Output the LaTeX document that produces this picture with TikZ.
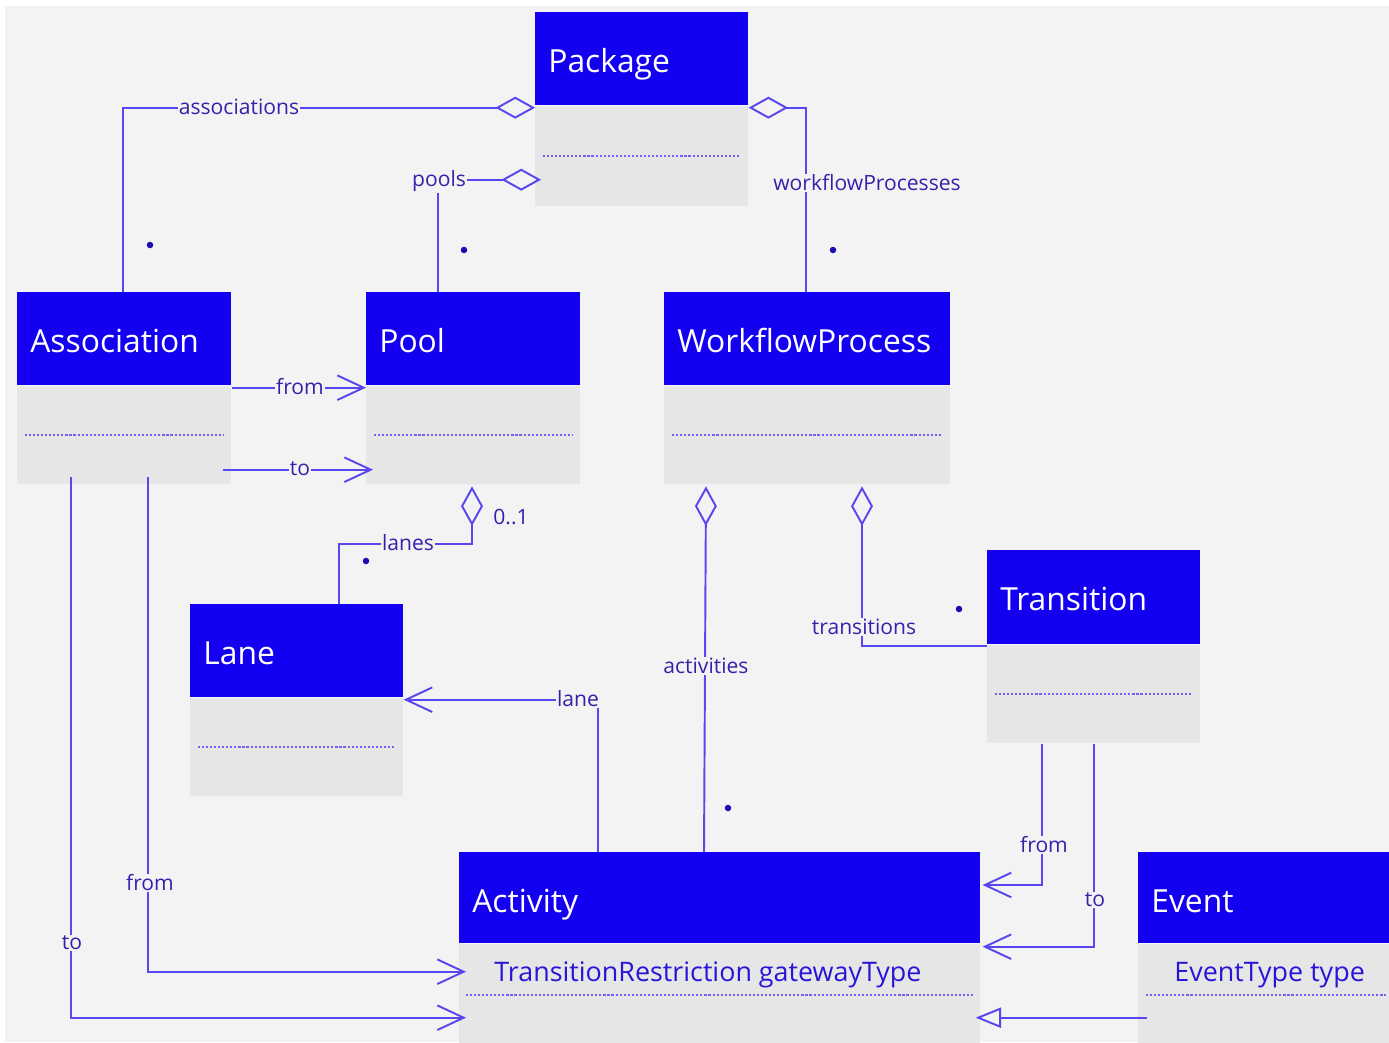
\documentclass[tikz,border=0pt]{standalone}
\usepackage{fontspec}
\setmainfont{Open Sans}
\usetikzlibrary{arrows.meta,calc}
\definecolor{canvas}{RGB}{243,243,243}
\definecolor{hdrblue}{RGB}{20,0,240}
\definecolor{compgray}{RGB}{230,230,230}
\definecolor{linkblue}{RGB}{88,70,238}
\definecolor{lblcol}{RGB}{52,34,170}
\definecolor{attrcol}{RGB}{40,22,216}
\definecolor{dotcol}{RGB}{26,10,180}
\definecolor{sepcol}{RGB}{112,98,242}
\begin{document}
\begin{tikzpicture}[x=0.02cm,y=-0.02cm,
  hdr/.style={fill=hdrblue,draw=none,inner sep=0pt,anchor=north west,minimum height=1.86cm},
  cmp/.style={fill=compgray,draw=none,inner sep=0pt,anchor=north west,minimum height=1.96cm},
  ttl/.style={anchor=base west,inner sep=0pt,text=white,font=\fontsize{18.1}{21}\selectfont},
  attr/.style={anchor=base west,inner sep=0pt,text=attrcol,font=\fontsize{15.3}{18}\selectfont},
  sep/.style={draw=sepcol,line width=1.3pt,dash pattern=on 1.2pt off 1.1pt},
  conn/.style={draw=linkblue,line width=1.1pt},
  aggr/.style={{Diamond[open,length=22.5pt,width=12.5pt]}-},
  navig/.style={-{Straight Barb[length=15pt,width=14pt]}},
  genl/.style={-{Triangle[open,length=14.5pt,width=11.5pt]}},
  lbl/.style={text=lblcol,fill=canvas,inner sep=0.6pt,font=\fontsize{12}{14}\selectfont},
  mdot/.style={circle,fill=dotcol,inner sep=0pt,minimum size=0.13cm}]
\useasboundingbox (0,0) rectangle (1389,1042);
\fill[white] (0,0) rectangle (1389,1042);
\fill[canvas] (5,6) rectangle (1389,1042);

% ---- classes ----
\node[hdr,minimum width=4.26cm] (pkg) at (535,12) {};
\node[cmp,minimum width=4.26cm,minimum height=2cm] (pkgc) at (pkg.south west) {};
\node[ttl] (pkgT) at ($(pkg.north west)+(13,60)$) {Package};
\draw[sep] ($(pkgc.west)+(8,0)$) -- ($(pkgc.east)+(-8,0)$);

\node[hdr,minimum width=4.28cm] (asc) at (17,292) {};
\node[cmp,minimum width=4.28cm] (ascc) at (asc.south west) {};
\node[ttl] (ascT) at ($(asc.north west)+(13,60)$) {Association};
\draw[sep] ($(ascc.west)+(8,0)$) -- ($(ascc.east)+(-8,0)$);

\node[hdr,minimum width=4.28cm] (pool) at (366,292) {};
\node[cmp,minimum width=4.28cm] (poolc) at (pool.south west) {};
\node[ttl] (poolT) at ($(pool.north west)+(13,60)$) {Pool};
\draw[sep] ($(poolc.west)+(8,0)$) -- ($(poolc.east)+(-8,0)$);

\node[hdr,minimum width=5.72cm] (wfp) at (664,292) {};
\node[cmp,minimum width=5.72cm] (wfpc) at (wfp.south west) {};
\node[ttl] (wfpT) at ($(wfp.north west)+(13,60)$) {WorkflowProcess};
\draw[sep] ($(wfpc.west)+(8,0)$) -- ($(wfpc.east)+(-8,0)$);

\node[hdr,minimum width=4.26cm] (lane) at (190,604) {};
\node[cmp,minimum width=4.26cm] (lanec) at (lane.south west) {};
\node[ttl] (laneT) at ($(lane.north west)+(13,60)$) {Lane};
\draw[sep] ($(lanec.west)+(8,0)$) -- ($(lanec.east)+(-8,0)$);

\node[hdr,minimum width=4.26cm,minimum height=1.88cm] (trn) at (987,550) {};
\node[cmp,minimum width=4.26cm] (trnc) at (trn.south west) {};
\node[ttl] (trnT) at ($(trn.north west)+(13,60)$) {Transition};
\draw[sep] ($(trnc.west)+(8,0)$) -- ($(trnc.east)+(-8,0)$);

\node[hdr,minimum width=10.42cm,minimum height=1.82cm] (act) at (459,852) {};
\node[cmp,minimum width=10.42cm,minimum height=1.98cm] (actc) at (act.south west) {};
\node[ttl] (actT) at ($(act.north west)+(13,60)$) {Activity};
\node[attr] (actA) at ($(actc.north west)+(35,38)$) {TransitionRestriction gatewayType};
\draw[sep] ($(actc.north west)+(7,51)$) -- ($(actc.north east)+(-7,51)$);

\node[hdr,minimum width=5.02cm,minimum height=1.82cm] (evt) at (1138,852) {};
\node[cmp,minimum width=5.02cm,minimum height=1.98cm] (evtc) at (evt.south west) {};
\node[ttl] (evtT) at ($(evt.north west)+(13,60)$) {Event};
\node[attr] (evtA) at ($(evtc.north west)+(36,38)$) {EventType type};
\draw[sep] ($(evtc.north west)+(8,51)$) -- ($(evtc.north east)+(-4,51)$);

% ---- aggregations ----
\draw[conn,aggr] ($(pkg.south west)+(0,2)$) -| ($(asc.north west)+(106,0)$);
\draw[conn,aggr] ($(pkgc.north west)+(6,74)$) -| ($(pool.north west)+(72,0)$);
\draw[conn,aggr] ($(pkg.south east)+(0,2)$) -| ($(wfp.north west)+(142,0)$);
\draw[conn,aggr] ($(poolc.south west)+(106,2)$) -- ++(0,58) -| ($(lane.north west)+(149,0)$);
\draw[conn,aggr] ($(wfpc.south west)+(42,2)$) -- ($(act.north west)+(245,0)$);
\draw[conn,aggr] ($(wfpc.south west)+(198,2)$) |- ($(trn.south west)+(0,1)$);

% ---- navigable associations ----
\draw[conn,navig] ($(asc.south east)+(0,2)$) -- ($(pool.south west)+(0,2)$);
\draw[conn,navig] ($(ascc.north east)+(-9,84)$) -- ($(poolc.north west)+(7,84)$);
\draw[conn,navig] ($(act.north west)+(139,0)$) |- ($(lane.south east)+(0,2)$);
\draw[conn,navig] ($(ascc.south west)+(131,-7)$) |- ($(actc.north west)+(7,28)$);
\draw[conn,navig] ($(ascc.south west)+(54,-7)$) |- ($(actc.north west)+(7,74)$);
\draw[conn,navig] ($(trnc.south west)+(55,1)$) |- ($(act.north east)+(2,33)$);
\draw[conn,navig] ($(trnc.south west)+(107,1)$) |- ($(act.south east)+(2,3)$);

% ---- generalization ----
\draw[conn,genl] ($(evtc.north west)+(9,74)$) -- ($(actc.north east)+(-5,74)$);

% ---- role names ----
\node[lbl] (lAsc) at (239,107) {associations};
\node[lbl] (lPools) at (439,181) {pools};
\node[lbl] (lWfp) at (867,183) {workflowProcesses};
\node[lbl] (lFrom1) at (300,387) {from};
\node[lbl] (lTo1) at (300,469) {to};
\node[lbl] (lLanes) at (408,543) {lanes};
\node[lbl,fill=none] (lOne) at (511,517) {0..1};
\node[lbl] (lAct) at (706,666) {activities};
\node[lbl] (lTrn) at (864,627) {transitions};
\node[lbl] (lLane) at (578,699) {lane};
\node[lbl] (lFrom2) at (150,883) {from};
\node[lbl] (lTo2) at (72,943) {to};
\node[lbl] (lFrom3) at (1044,845) {from};
\node[lbl] (lTo3) at (1095,900) {to};

% ---- multiplicities ----
\node[mdot] (m1) at (150,245) {};
\node[mdot] (m2) at (464,250) {};
\node[mdot] (m3) at (833,250) {};
\node[mdot] (m4) at (366,561) {};
\node[mdot] (m5) at (959,609) {};
\node[mdot] (m6) at (728,808) {};
\end{tikzpicture}
\end{document}
